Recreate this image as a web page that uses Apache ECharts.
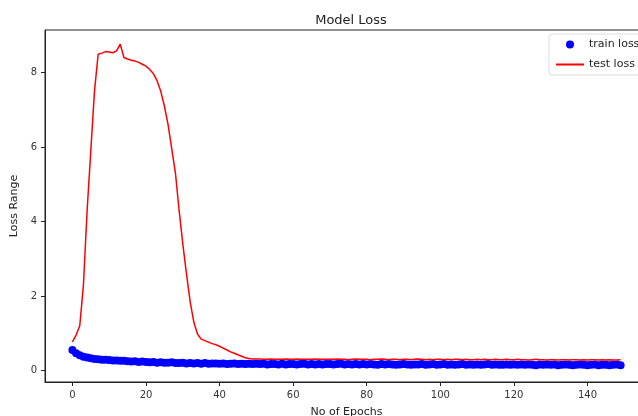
<!DOCTYPE html>
<html>
<head>
<meta charset="utf-8">
<script src="https://cdn.jsdelivr.net/npm/echarts@6/dist/echarts.min.js"></script>
<style>html,body{margin:0;padding:0;background:#fff}#c{width:638px;height:416px}</style>
</head>
<body>
<div id="c"></div>
<script>
const epochs = Array.from({length:150}, (_, i) => i);
const trainLoss = [
0.55,0.46,0.41,0.37,0.35,0.33,0.31,0.30,0.29,0.29,
0.28,0.27,0.27,0.26,0.26,0.25,0.24,0.25,0.23,0.24,
0.23,0.22,0.23,0.21,0.22,0.21,0.21,0.22,0.20,0.20,
0.21,0.19,0.20,0.19,0.20,0.18,0.20,0.18,0.19,0.19,
0.18,0.19,0.17,0.18,0.19,0.17,0.18,0.17,0.18,0.17,
0.18,0.17,0.18,0.16,0.17,0.17,0.16,0.18,0.16,0.17,
0.17,0.16,0.17,0.18,0.16,0.17,0.16,0.17,0.16,0.17,
0.17,0.16,0.17,0.18,0.16,0.17,0.16,0.17,0.16,0.17,
0.16,0.17,0.16,0.15,0.17,0.16,0.17,0.16,0.15,0.16,
0.17,0.16,0.15,0.16,0.16,0.17,0.15,0.16,0.17,0.15,
0.16,0.17,0.15,0.16,0.15,0.16,0.17,0.15,0.16,0.15,
0.16,0.15,0.16,0.17,0.15,0.16,0.15,0.15,0.16,0.15,
0.16,0.15,0.16,0.15,0.16,0.15,0.14,0.16,0.15,0.16,
0.15,0.16,0.14,0.15,0.16,0.15,0.14,0.15,0.16,0.15,
0.14,0.15,0.16,0.14,0.15,0.15,0.14,0.15,0.16,0.14
];
const testLoss = [
0.77,0.95,1.20,2.30,4.30,5.90,7.50,8.49,8.52,8.56,
8.55,8.53,8.58,8.76,8.40,8.36,8.33,8.31,8.27,8.22,
8.17,8.08,7.97,7.78,7.50,7.10,6.60,5.95,5.30,4.30,
3.40,2.60,1.85,1.30,0.98,0.84,0.80,0.76,0.72,0.69,
0.65,0.60,0.55,0.50,0.46,0.42,0.38,0.34,0.32,0.31,
0.31,0.31,0.30,0.30,0.31,0.30,0.30,0.30,0.31,0.30,
0.30,0.31,0.30,0.30,0.30,0.30,0.31,0.30,0.30,0.30,
0.30,0.30,0.31,0.30,0.30,0.29,0.30,0.31,0.30,0.30,
0.30,0.29,0.30,0.30,0.31,0.30,0.29,0.30,0.30,0.29,
0.30,0.30,0.29,0.30,0.31,0.30,0.29,0.30,0.29,0.30,
0.30,0.29,0.30,0.29,0.30,0.30,0.29,0.30,0.29,0.29,
0.30,0.29,0.30,0.29,0.29,0.30,0.29,0.29,0.30,0.29,
0.29,0.30,0.29,0.29,0.28,0.29,0.30,0.29,0.29,0.28,
0.29,0.29,0.28,0.29,0.29,0.28,0.29,0.29,0.28,0.29,
0.28,0.29,0.29,0.28,0.29,0.28,0.29,0.28,0.28,0.29
];
const xTicks = [0,20,40,60,80,100,120,140];
const yTicks = [0,2,4,6,8];

const font = 'DejaVu Sans';
const chart = echarts.init(document.getElementById('c'), null, {renderer:'canvas'});
chart.setOption({
  animation: false,
  backgroundColor: '#fff',
  title: {
    text: 'Model Loss', left: 346, top: 9, textAlign: 'center',
    textStyle: {fontFamily: font, fontSize: 13, fontWeight: 'normal', color: '#222'}
  },
  grid: {left: 45, top: 30, width: 603, height: 352, containLabel: false, outerBoundsMode: 'none',
         show: true, borderColor: '#222', borderWidth: 1, backgroundColor: 'transparent'},
  legend: {
    orient: 'vertical', left: 549, top: 34,
    padding: [5, 6, 5, 6], itemWidth: 28, itemHeight: 8, itemGap: 9,
    backgroundColor: 'rgba(255,255,255,0.85)', borderColor: '#ddd', borderWidth: 1, borderRadius: 3,
    textStyle: {fontFamily: font, fontSize: 11, color: '#222'},
    data: [
      {name: 'train loss', icon: 'circle', itemStyle: {color: '#0000ff', opacity: 1}},
      {name: 'test loss', itemStyle: {opacity: 0}}
    ]
  },
  xAxis: {
    type: 'value', min: -7.45, max: 156.45,
    name: 'No of Epochs', nameLocation: 'middle', nameGap: 25,
    nameTextStyle: {fontFamily: font, fontSize: 11, color: '#222'},
    axisLine: {show: true, onZero: false, lineStyle: {color: '#222'}},
    axisTick: {show: true, length: 4, customValues: xTicks, lineStyle: {color: '#222'}},
    axisLabel: {customValues: xTicks, fontFamily: font, fontSize: 10, color: '#333', margin: 8},
    splitLine: {show: false}
  },
  yAxis: {
    type: 'value', min: -0.31, max: 9.14,
    name: 'Loss Range', nameLocation: 'middle', nameGap: 25,
    nameTextStyle: {fontFamily: font, fontSize: 11, color: '#222'},
    axisLine: {show: true, onZero: false, lineStyle: {color: '#222'}},
    axisTick: {show: true, length: 4, customValues: yTicks, lineStyle: {color: '#222'}},
    axisLabel: {customValues: yTicks, fontFamily: font, fontSize: 10, color: '#333', margin: 8},
    splitLine: {show: false}
  },
  series: [
    {
      name: 'train loss', type: 'scatter', symbol: 'circle', symbolSize: 8,
      itemStyle: {color: '#0000ff', opacity: 1},
      data: epochs.map((e, i) => [e, trainLoss[i]])
    },
    {
      name: 'test loss', type: 'line', symbol: 'none', showSymbol: false,
      lineStyle: {color: '#ff0000', width: 1.5}, itemStyle: {color: '#ff0000'},
      data: epochs.map((e, i) => [e, testLoss[i]])
    }
  ]
});
</script>
</body>
</html>
